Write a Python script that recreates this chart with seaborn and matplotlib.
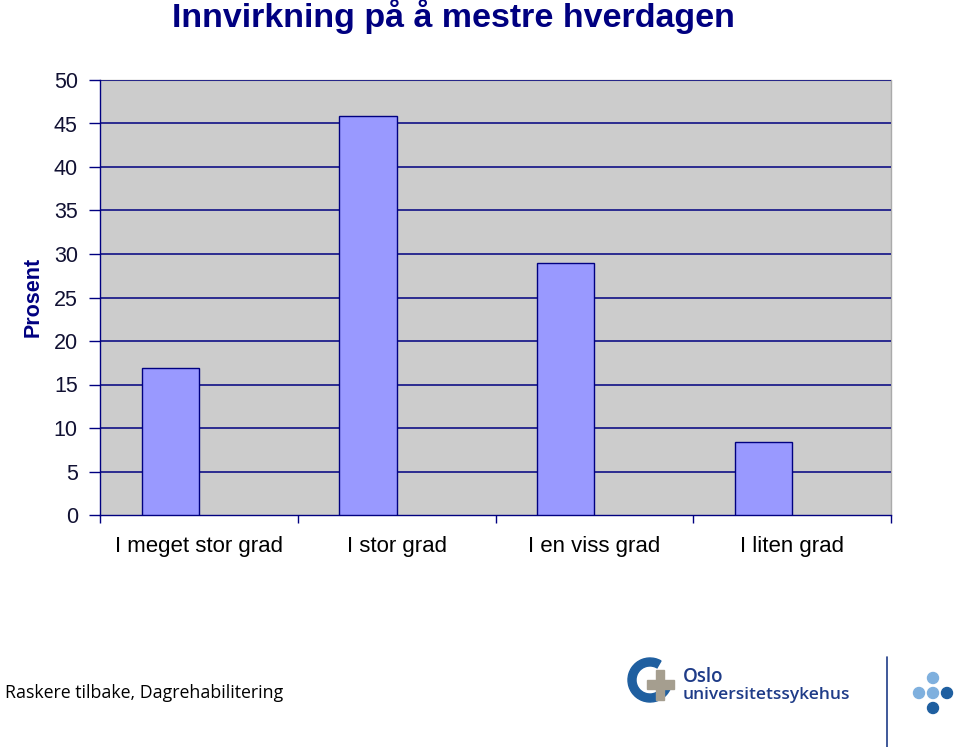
import matplotlib
matplotlib.use("Agg")
import matplotlib.pyplot as plt
import matplotlib.patches as mpatches
import seaborn as sns
import pandas as pd
import numpy as np

categories = ["I meget stor grad", "I stor grad", "I en viss grad", "I liten grad"]
values = [16.9, 45.9, 29.0, 8.4]
yticks = [0, 5, 10, 15, 20, 25, 30, 35, 40, 45, 50]
title = "Innvirkning på å mestre hverdagen"
ylabel = "Prosent"
footer = "Raskere tilbake, Dagrehabilitering"

NAVY = "#000080"
df = pd.DataFrame({
    "cat": categories * 2,
    "val": values + [np.nan] * 4,
    "series": ["a"] * 4 + ["b"] * 4,
})

sns.set_theme(style="white")
plt.rcParams["font.family"] = ["Liberation Sans", "DejaVu Sans"]

fig = plt.figure(figsize=(9.59, 7.47), dpi=100)
ax = fig.add_axes([100/959, 1-515/747, 791/959, 435/747])
ax.set_facecolor("#CCCCCC")

sns.barplot(data=df, x="cat", y="val", hue="series", hue_order=["a", "b"],
            palette={"a": "#9999FF", "b": "#9999FF"}, width=0.58, dodge=True,
            edgecolor=NAVY, linewidth=1.0, saturation=1, legend=False, ax=ax,
            zorder=3)

ax.set_ylim(0, 50)
ax.set_xlim(-0.5, 3.5)
ax.set_yticks(yticks)
ax.set_yticklabels([str(t) for t in yticks], fontsize=15.5, color="#111133")
for y in yticks[1:]:
    ax.axhline(y, color=NAVY, linewidth=1.1, zorder=1)

ax.set_xticks([-0.5, 0.5, 1.5, 2.5, 3.5])
ax.set_xticklabels([])
ax.set_xticks([0, 1, 2, 3], minor=True)
ax.set_xticklabels(categories, minor=True, fontsize=16, color="#000000")
ax.tick_params(axis="x", which="major", direction="out", length=6, width=1, color=NAVY, bottom=True)
ax.tick_params(axis="x", which="minor", length=0, pad=15)
ax.tick_params(axis="y", direction="out", length=8, width=1, color=NAVY, left=True, pad=8)
ax.set_xlabel("")
ax.set_ylabel("")

for s in ["top", "right"]:
    ax.spines[s].set_visible(False)
ax.spines["left"].set_color(NAVY)
ax.spines["bottom"].set_color(NAVY)
ax.spines["left"].set_linewidth(1)
ax.spines["bottom"].set_linewidth(1)
ax.plot([1, 1], [0, 1], transform=ax.transAxes, color="#AAAAAA", lw=1, clip_on=False, zorder=0)
ax.plot([0, 1], [1, 1], transform=ax.transAxes, color="#AAAAAA", lw=1, clip_on=False, zorder=0)

fig.text(453/959, 1-17/747, title, ha="center", va="center", fontsize=24.5,
         fontweight="bold", color=NAVY)
fig.text(33/959, 1-297/747, ylabel, ha="center", va="center", rotation=90,
         fontsize=15.5, fontweight="bold", color=NAVY)
fig.text(5/959, 1-693/747, footer, ha="left", va="center", fontsize=12.8,
         color="#000000", family=["Open Sans", "DejaVu Sans"])

# logo overlay
ov = fig.add_axes([0, 0, 1, 1], zorder=10)
ov.set_xlim(0, 959)
ov.set_ylim(747, 0)
ov.axis("off")
ov.patch.set_alpha(0)
ring = mpatches.Wedge((650, 680), 22, 25, 300, width=8, color="#1F5FA0")
ov.add_patch(ring)
ov.add_patch(mpatches.Rectangle((656, 670), 8, 30, color="#A59E8F"))
ov.add_patch(mpatches.Rectangle((647, 680), 27, 9, color="#A59E8F"))
ov.text(683, 677, "Oslo", fontsize=13.5, fontweight="semibold", color="#1F3C88",
        va="center", ha="left", family=["Open Sans", "DejaVu Sans"])
ov.text(683, 695, "universitetssykehus", fontsize=12.5, fontweight="semibold",
        color="#1F3C88", va="center", ha="left", family=["Open Sans", "DejaVu Sans"])
ov.plot([887, 887], [657, 747], color="#1F3C88", lw=1.2)
for (x, y, c) in [(933, 678, "#7FB0DE"), (919, 693, "#7FB0DE"), (933, 693, "#7FB0DE"),
                  (947, 693, "#1F5FA0"), (933, 708, "#1F5FA0")]:
    ov.add_patch(mpatches.Circle((x, y), 5.5, color=c))

fig.savefig("out.png", dpi=100, facecolor="white")
